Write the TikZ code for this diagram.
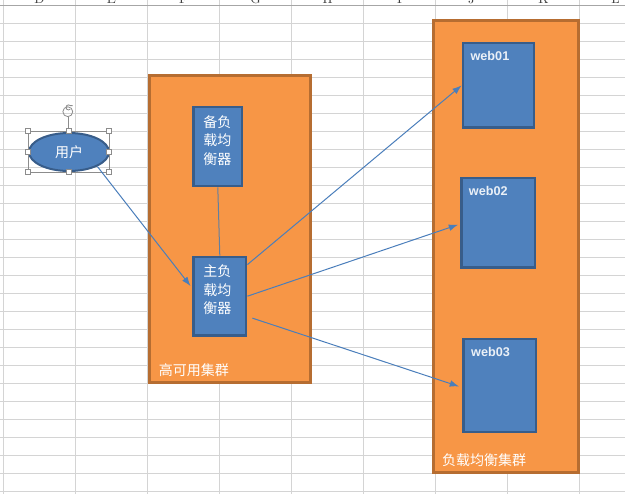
\documentclass[tikz,border=0pt]{standalone}
\usepackage{fontspec}
\usepackage{xcolor}
\usepackage{tikz}
\usetikzlibrary{shapes.geometric,arrows.meta}
\newfontfamily\cjk{Noto Sans CJK SC}
\newfontfamily\webfont{Liberation Sans}

\definecolor{gridgray}{HTML}{D4D4D4}
\definecolor{headgray}{HTML}{A6A6A6}
\definecolor{clusterfill}{HTML}{F79646}
\definecolor{clusterline}{HTML}{B66D31}
\definecolor{boxfill}{HTML}{4F81BD}
\definecolor{boxline}{HTML}{385D8A}
\definecolor{linkblue}{HTML}{4A7EBB}
\definecolor{handlegray}{HTML}{8C8C8C}

\begin{document}
\begin{tikzpicture}[x=0.75pt,y=-0.75pt,
  cluster/.style={draw=clusterline,fill=clusterfill,line width=2.2pt,inner sep=0pt},
  server/.style={draw=boxline,fill=boxfill,line width=2pt,inner sep=0pt},
  cntext/.style={text=white,font=\cjk\fontsize{10.5}{14}\selectfont,align=center,inner sep=0pt},
  webtext/.style={text=white!88!boxfill,font=\webfont\bfseries\fontsize{9.5}{11}\selectfont,inner sep=0pt},
  link/.style={draw=linkblue,line width=0.75pt,-{Latex[length=7pt,width=5pt]}},
  handle/.style={draw=handlegray,fill=white,line width=0.45pt,minimum size=4pt,inner sep=0pt}]

% sheet background and grid
\useasboundingbox (0,0) rectangle (625,494);
\fill[white] (0,0) rectangle (625,494);
\foreach \gy in {23.3,41.3,...,492} \draw[gridgray,line width=0.75pt] (0,\gy) -- (625,\gy);
\foreach \gx in {3.5,75.5,...,600} \draw[gridgray,line width=0.75pt] (\gx,0) -- (\gx,494);
\draw[headgray,line width=0.75pt] (0,5.3) -- (625,5.3);
\foreach \col [count=\i from 0] in {D,E,F,G,H,I,J,K,L}
  \node[anchor=base,text=black!75,font=\fontsize{10}{12}\selectfont,inner sep=0pt] (head\col) at ({39.5+72*\i},3.2) {\col};

% clusters
\node[cluster,minimum width=120.75pt,minimum height=230.25pt] (ha) at (230,228.7) {};
\node[cluster,minimum width=108.75pt,minimum height=339pt] (lb) at (506.3,246.7) {};
\node[cntext,anchor=west] (halabel) at ([xshift=7.9pt,yshift=10.4pt]ha.south west) {高可用集群};
\node[cntext,anchor=west] (lblabel) at ([xshift=7.1pt,yshift=10.8pt]lb.south west) {负载均衡集群};

% balancers
\node[server,minimum width=36.4pt,minimum height=59.3pt] (backup) at (217.8,146.5) {};
\node[server,minimum width=39.4pt,minimum height=58.9pt] (primary) at (219.8,296.2) {};
\node[cntext] (backuptext) at ([xshift=-0.4pt,yshift=4.6pt]backup.center) {备负\\载均\\衡器};
\node[cntext] (primarytext) at ([xshift=-1.8pt,yshift=4.8pt]primary.center) {主负\\载均\\衡器};

% web servers
\node[server,minimum width=53.3pt,minimum height=63.6pt] (web01) at (498.5,85.4) {};
\node[server,minimum width=55.3pt,minimum height=67.1pt] (web02) at (498.2,222.7) {};
\node[server,minimum width=54.2pt,minimum height=69.8pt] (web03) at (499.7,385.5) {};
\node[webtext,anchor=west] (web01text) at ([xshift=6.5pt,yshift=-10.4pt]web01.north west) {web01};
\node[webtext,anchor=west] (web02text) at ([xshift=6.5pt,yshift=-10.4pt]web02.north west) {web02};
\node[webtext,anchor=west] (web03text) at ([xshift=6.5pt,yshift=-10.4pt]web03.north west) {web03};

% user, selected
\node[ellipse,draw=boxline,fill=boxfill,line width=1.5pt,minimum width=60pt,minimum height=28.5pt,inner sep=0pt] (user) at (69,152) {};
\node[cntext] (usertext) at (user.center) {用户};
\draw[handlegray,line width=0.45pt] (28,131) rectangle (109,172);
\draw[handlegray,line width=0.45pt] (68.5,131) -- (68.5,116.7);
\draw[handlegray,line width=0.6pt] (67.8,111.7) circle[radius=3.7pt];
\draw[handlegray,line width=0.6pt] (70.3,109.2) arc[start angle=-45,end angle=-315,radius=1.9pt] -- ++(2.2,0);
\foreach \hx/\hy in {28/131,68.5/131,109/131,28/151.5,109/151.5,28/172,68.5/172,109/172}
  \node[handle] at (\hx,\hy) {};

% connectors
\draw[draw=linkblue!55!gray,line width=0.75pt] (backup.south) -- (primary.north);
\draw[link,shorten >=2pt] (user.-27) -- ([yshift=6pt]primary.west);
\draw[link] ([yshift=-6.75pt]primary.north east) -- (web01.west);
\draw[link,shorten >=1.5pt] (primary.east) -- ([yshift=-1pt]web02.west);
\draw[link,shorten >=2.5pt] ([xshift=3.75pt,yshift=14pt]primary.south east) -- ([yshift=-1.5pt]web03.west);
\end{tikzpicture}
\end{document}
